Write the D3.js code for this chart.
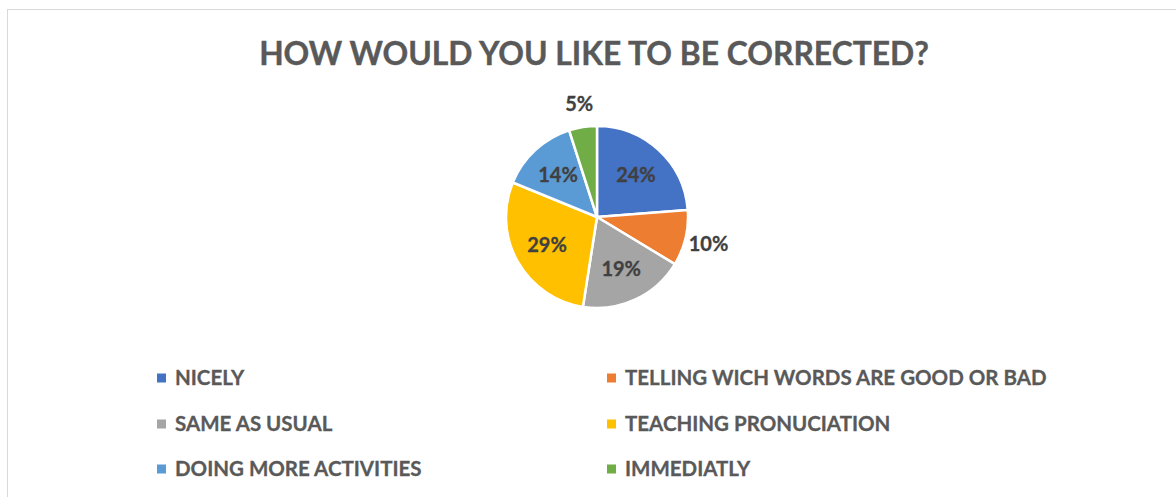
<!DOCTYPE html>
<html>
<head>
<meta charset="utf-8">
<script src="https://cdn.jsdelivr.net/npm/d3@7"></script>
<style>
  html, body { margin: 0; padding: 0; background: #fff; }
  svg { display: block; }
  text { font-family: Lato, "Open Sans", sans-serif; font-weight: bold; }
</style>
</head>
<body>
<svg id="chart" width="1176" height="497"></svg>
<script>
// Survey answers: share of respondents per preferred correction style (%)
const categories = [
  "NICELY",
  "TELLING WICH WORDS ARE GOOD OR BAD",
  "SAME AS USUAL",
  "TEACHING PRONUCIATION",
  "DOING MORE ACTIVITIES",
  "IMMEDIATLY"
];
const percents = [24, 10, 19, 29, 14, 5];
const colors = ["#4472C4", "#ED7D31", "#A5A5A5", "#FFC000", "#5B9BD5", "#70AD47"];
const titleText = "HOW WOULD YOU LIKE TO BE CORRECTED?";

const svg = d3.select("#chart");
const W = 1176, H = 497;

// chart frame
svg.append("rect")
  .attr("x", 7.5).attr("y", 9.5)
  .attr("width", W + 10).attr("height", H + 10)
  .attr("fill", "#fff")
  .attr("stroke", "#d9d9d9").attr("stroke-width", 1);

// title
svg.append("text")
  .attr("x", 594).attr("y", 64.5)
  .attr("text-anchor", "middle")
  .attr("fill", "#595959")
  .attr("font-size", 31.8)
  .attr("stroke", "#595959").attr("stroke-width", 0.4)
  .text(titleText);

// pie
const cx = 597, cy = 217, R = 91;
const data = categories.map((c, i) => ({ name: c, value: percents[i], color: colors[i] }));
const pie = d3.pie().sort(null).value(d => d.value);
const arcs = pie(data);
const arc = d3.arc().innerRadius(0).outerRadius(R);
const labelArc = d3.arc().innerRadius(R * 0.63).outerRadius(R * 0.63);
const outerLabelArc = d3.arc().innerRadius(R * 1.26).outerRadius(R * 1.26);

const g = svg.append("g").attr("transform", `translate(${cx},${cy})`);
g.selectAll("path.slice")
  .data(arcs)
  .join("path")
  .attr("class", "slice")
  .attr("d", arc)
  .attr("fill", d => d.data.color)
  .attr("stroke", "#fff")
  .attr("stroke-width", 2.5)
  .attr("stroke-linejoin", "round");

// data labels: inside for larger slices, outside for thin ones
g.selectAll("text.lbl")
  .data(arcs)
  .join("text")
  .attr("class", "lbl")
  .attr("transform", d => {
    const p = d.data.value < 12 ? outerLabelArc.centroid(d) : labelArc.centroid(d);
    return `translate(${p[0]},${p[1]})`;
  })
  .attr("text-anchor", "middle")
  .attr("dy", "0.36em")
  .attr("fill", "#404040")
  .attr("stroke", "#404040").attr("stroke-width", 0.3)
  .attr("font-size", 20)
  .text(d => d.data.value + "%");

// legend: two columns, three rows
const legend = svg.append("g");
const colX = [157, 607];
const rowY = [378, 424, 469];
const items = legend.selectAll("g.item")
  .data(data)
  .join("g")
  .attr("class", "item")
  .attr("transform", (d, i) => `translate(${colX[i % 2]},${rowY[Math.floor(i / 2)]})`);
items.append("rect")
  .attr("x", 0).attr("y", -4.5)
  .attr("width", 9).attr("height", 9)
  .attr("fill", d => d.color);
items.append("text")
  .attr("x", 18).attr("y", 0)
  .attr("dy", "0.36em")
  .attr("fill", "#595959")
  .attr("stroke", "#595959").attr("stroke-width", 0.3)
  .attr("font-size", 20.5)
  .text(d => d.name);
</script>
</body>
</html>
